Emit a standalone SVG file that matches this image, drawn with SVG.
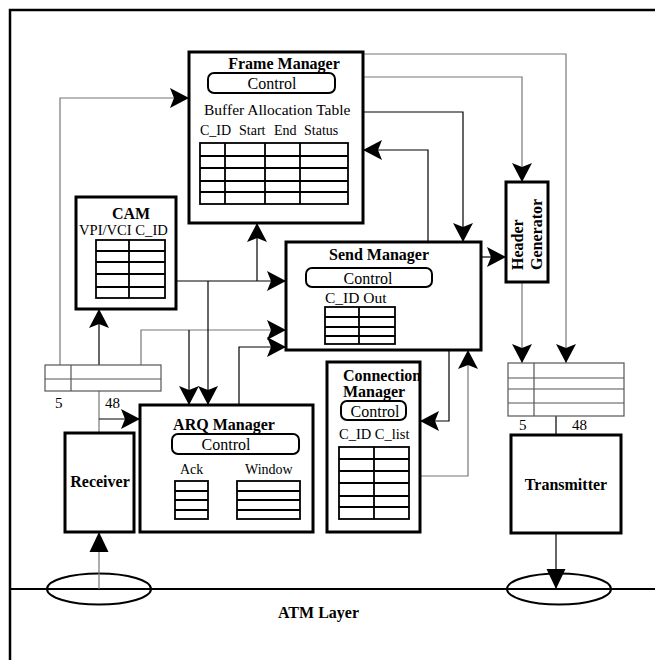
<svg xmlns="http://www.w3.org/2000/svg" width="655" height="660" viewBox="0 0 655 660">
<style>
.box{fill:#fff;stroke:#000;stroke-width:3}
.pill{fill:none;stroke:#000;stroke-width:2}
.tbl{fill:none;stroke:#000;stroke-width:1.8}
.buf{fill:none;stroke:#555;stroke-width:1.2}
.t{font-family:"Liberation Serif","Times New Roman",serif;font-size:16px;fill:#000}
.b{font-weight:bold}
.s{font-size:14px}
.m{text-anchor:middle}
.c{fill:none;stroke:#000;stroke-width:1.2}
.g{stroke:#777}
</style>
<defs>
<marker id="a" viewBox="-20 -11 21 22" refX="0" refY="0" markerWidth="21" markerHeight="22" markerUnits="userSpaceOnUse" orient="auto">
<path d="M0,0 L-19,-10 L-15,0 L-19,10 Z" fill="#000"/>
</marker>
<marker id="f" viewBox="-21 -11 22 22" refX="0" refY="0" markerWidth="22" markerHeight="22" markerUnits="userSpaceOnUse" orient="auto">
<path d="M0,0 L-20,-9.5 L-20,9.5 Z" fill="#000"/>
</marker>
</defs>
<rect width="655" height="660" fill="#fff"/>
<g id="frame">
<path d="M10,660 V10 H655" fill="none" stroke="#000" stroke-width="2.5"/>
<line x1="10" y1="589" x2="655" y2="589" stroke="#000" stroke-width="2"/>
<ellipse cx="99" cy="589" rx="52" ry="15.5" fill="none" stroke="#000" stroke-width="2"/>
<ellipse cx="559" cy="589" rx="52" ry="15.5" fill="none" stroke="#000" stroke-width="2"/>
<text class="t b" x="278" y="618">ATM Layer</text>
</g>
<g id="connectors">
<path class="c g" d="M60,365 V98 H189" marker-end="url(#a)"/>
<path class="c" stroke="#444" d="M99,365 V309" marker-end="url(#a)"/>
<path class="c g" d="M141,365 V330 H286" marker-end="url(#a)"/>
<path class="c" stroke="#333" d="M189,330 V405" marker-end="url(#a)"/>
<path class="c" d="M176,281 H286" marker-end="url(#a)"/>
<path class="c" d="M257,281 V223" marker-end="url(#a)"/>
<path class="c" d="M208,281 V405" marker-end="url(#a)"/>
<path class="c" d="M239,405 V347 H286" marker-end="url(#a)"/>
<path class="c g" d="M99,391 V433"/>
<path class="c" d="M99,419 H140" marker-end="url(#a)"/>
<path class="c g" d="M99,589 V532" marker-end="url(#f)"/>
<path class="c g" d="M363,54 H566 V363" marker-end="url(#a)"/>
<path class="c g" d="M363,77 H522 V182" marker-end="url(#a)"/>
<path class="c" d="M363,112 H463 V242" marker-end="url(#a)"/>
<path class="c" d="M428,242 V150 H363" marker-end="url(#a)"/>
<path class="c" d="M481,257 H506" marker-end="url(#a)"/>
<path class="c g" d="M522,282 V363" marker-end="url(#a)"/>
<path class="c" stroke="#444" d="M449,350 V421 H420" marker-end="url(#a)"/>
<path class="c g" d="M420,476 H468 V350" marker-end="url(#a)"/>
<path class="c" d="M556,416 V435"/>
<path class="c" d="M556,533 V589" marker-end="url(#f)"/>
</g>
<g id="frame-manager">
<rect class="box" x="189" y="52" width="174" height="171"/>
<text class="t b m" x="284" y="69">Frame Manager</text>
<rect class="pill" x="208" y="73" width="127" height="20" rx="6"/>
<text class="t m" x="272" y="89">Control</text>
<text class="t" x="204" y="115" style="font-size:15.5px">Buffer Allocation Table</text>
<text class="t s" x="200" y="135">C_ID</text>
<text class="t s" x="239" y="135">Start</text>
<text class="t s" x="274" y="135">End</text>
<text class="t s" x="304" y="135">Status</text>
<rect class="tbl" x="200" y="143" width="148" height="61"/>
<path class="tbl" d="M225,143 V204 M265,143 V204 M300,143 V204 M200,156 H348 M200,168 H348 M200,181 H348 M200,192 H348"/>
</g>
<g id="cam">
<rect class="box" x="76" y="197" width="100" height="112"/>
<text class="t b m" x="131" y="219">CAM</text>
<text class="t" x="79" y="235" style="font-size:14.6px">VPI/VCI  C_ID</text>
<rect class="tbl" x="96" y="240" width="69" height="58"/>
<path class="tbl" d="M129,240 V298 M96,251 H165 M96,262 H165 M96,274 H165 M96,287 H165"/>
</g>
<g id="send-manager">
<rect class="box" x="286" y="242" width="195" height="108"/>
<text class="t b m" x="379" y="260">Send Manager</text>
<rect class="pill" x="306" y="268" width="126" height="19" rx="6"/>
<text class="t m" x="368" y="284">Control</text>
<text class="t" x="325" y="303" style="font-size:15.5px">C_ID Out</text>
<rect class="tbl" x="325" y="307" width="70" height="37"/>
<path class="tbl" d="M359,307 V344 M325,317 H395 M325,327 H395 M325,336 H395"/>
</g>
<g id="header-generator">
<rect class="box" x="506" y="182" width="42" height="100"/>
<text class="t b" transform="translate(523,270) rotate(-90)">Header</text>
<text class="t b" transform="translate(542,270) rotate(-90)">Generator</text>
</g>
<g id="connection-manager">
<rect class="box" x="327" y="362" width="93" height="170"/>
<text class="t b" x="343" y="381">Connection</text>
<text class="t b" x="343" y="397">Manager</text>
<rect class="pill" x="341" y="401" width="65" height="19" rx="6"/>
<text class="t m" x="375" y="417">Control</text>
<text class="t" x="339" y="439" style="font-size:14.5px">C_ID C_list</text>
<rect class="tbl" x="339" y="447" width="70" height="72"/>
<path class="tbl" d="M374,447 V519 M339,459 H409 M339,471 H409 M339,483 H409 M339,496 H409 M339,507 H409"/>
</g>
<g id="arq-manager">
<rect class="box" x="140" y="405" width="173" height="127"/>
<text class="t b m" x="224" y="430">ARQ Manager</text>
<rect class="pill" x="172" y="434" width="127" height="20" rx="6"/>
<text class="t m" x="226" y="450">Control</text>
<text class="t s" x="180" y="474">Ack</text>
<text class="t s" x="245" y="474">Window</text>
<rect class="tbl" x="175" y="481" width="33" height="38"/>
<path class="tbl" d="M175,491 H208 M175,500 H208 M175,510 H208"/>
<rect class="tbl" x="237" y="481" width="63" height="38"/>
<path class="tbl" d="M237,491 H300 M237,500 H300 M237,510 H300"/>
</g>
<g id="receive-buffer">
<rect class="buf" x="45" y="365" width="116" height="26"/>
<path class="buf" d="M71,365 V391 M45,379 H161"/>
<text class="t" x="55" y="408" style="font-size:15px">5</text>
<text class="t" x="105" y="408" style="font-size:15px">48</text>
</g>
<g id="receiver">
<rect class="box" x="65" y="433" width="69" height="99"/>
<text class="t b m" x="100" y="487">Receiver</text>
</g>
<g id="transmit-buffer">
<rect class="buf" x="508" y="363" width="116" height="53"/>
<path class="buf" d="M534,363 V416 M508,378 H624 M508,389 H624 M508,403 H624"/>
<text class="t" x="519" y="430" style="font-size:15px">5</text>
<text class="t" x="572" y="430" style="font-size:15px">48</text>
</g>
<g id="transmitter">
<rect class="box" x="511" y="435" width="110" height="98"/>
<text class="t b m" x="566" y="490">Transmitter</text>
</g>
</svg>
